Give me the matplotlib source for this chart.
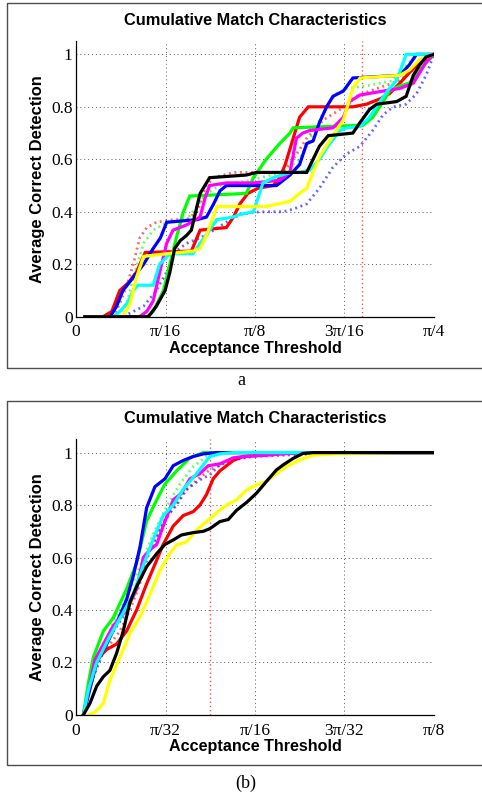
#-*-coding: UTF-8-*-

import numpy as np
import matplotlib
matplotlib.use("Agg")
import matplotlib.pyplot as plt
from matplotlib.patches import Rectangle

# Thresholds are kept in degrees, converted to radians when plotted

# ---- panel a : threshold up to pi/4 ----
a_red_x = [1.1, 3.4, 4.5, 5.5, 6.6, 7.6, 8.7, 14.5, 15.6, 18.9, 19.8, 20.6, 21.6, 22.9,
           24.8, 25.6, 26.3, 27.1, 28.1, 29.2, 34.8, 36.5, 38.2, 39.4, 40.7, 41.9, 43.2, 45]
a_red_y = [0, 0, 0.02, 0.1, 0.13, 0.17, 0.245, 0.25, 0.33, 0.34, 0.38, 0.43, 0.47, 0.49,
           0.50, 0.53, 0.58, 0.66, 0.76, 0.80, 0.80, 0.81, 0.83, 0.85, 0.89, 0.93, 0.97, 1.0]

a_green_x = [1.1, 8.9, 9.7, 11.0, 11.8, 12.6, 13.5, 14.3, 21.4, 22.3, 23.9, 25.6, 26.9,
             27.3, 36.1, 37.3, 38.6, 39.4, 40.7, 41.9, 43.2, 45]
a_green_y = [0, 0, 0.02, 0.1, 0.2, 0.3, 0.4, 0.46, 0.47, 0.53, 0.6, 0.66, 0.70,
             0.72, 0.73, 0.76, 0.82, 0.86, 0.88, 0.89, 0.94, 1.0]

a_blue_x = [1.1, 4.3, 5.1, 5.9, 7.2, 8.5, 9.7, 10.6, 11.4, 15.2, 16.4, 17.3, 18.1, 18.9,
            25.2, 26.9, 28.1, 29.0, 29.8, 30.6, 31.5, 32.3, 33.6, 34.8, 40.7, 41.9, 42.8, 45]
a_blue_y = [0, 0, 0.04, 0.1, 0.15, 0.2, 0.26, 0.3, 0.36, 0.37, 0.38, 0.43, 0.48, 0.5,
            0.5, 0.54, 0.58, 0.66, 0.67, 0.74, 0.8, 0.84, 0.86, 0.91, 0.92, 0.96, 1.0, 1.0]

a_magenta_x = [1.1, 8.0, 8.9, 9.7, 10.6, 11.4, 12.2, 13.9, 15.6, 16.2, 16.8, 18.9, 22.3,
               25.6, 26.9, 27.7, 28.5, 29.4, 32.3, 33.6, 34.4, 35.7, 38.6, 40.7, 42.4,
               43.2, 44.0, 45]
a_magenta_y = [0, 0, 0.02, 0.06, 0.18, 0.28, 0.33, 0.35, 0.38, 0.45, 0.5, 0.51, 0.51,
               0.52, 0.55, 0.68, 0.7, 0.71, 0.72, 0.76, 0.82, 0.845, 0.86, 0.87, 0.89,
               0.93, 0.97, 1.0]

a_cyan_x = [1.1, 4.7, 5.5, 6.4, 7.2, 7.8, 9.7, 10.5, 11.8, 14.7, 15.6, 16.8, 17.7, 19.8,
            20.6, 22.3, 23.5, 24.8, 26.9, 28.1, 29.4, 30.6, 31.9, 33.2, 34.0, 35.7, 36.9,
            38.2, 39.4, 40.3, 41.5, 45]
a_cyan_y = [0, 0, 0.02, 0.05, 0.1, 0.12, 0.12, 0.2, 0.24, 0.24, 0.28, 0.33, 0.37, 0.38,
            0.39, 0.40, 0.51, 0.53, 0.55, 0.55, 0.56, 0.6, 0.66, 0.71, 0.72, 0.725, 0.76,
            0.82, 0.87, 0.9, 1.0, 1.0]

a_yellow_x = [1.1, 5.9, 6.8, 7.6, 8.5, 11.4, 14.7, 15.6, 16.4, 17.7, 23.9, 26.9, 28.1,
              29.0, 30.6, 32.3, 33.6, 34.8, 35.7, 40.7, 41.9, 43.2, 45]
a_yellow_y = [0, 0, 0.05, 0.15, 0.23, 0.24, 0.25, 0.26, 0.31, 0.42, 0.42, 0.44, 0.47,
              0.49, 0.61, 0.69, 0.75, 0.87, 0.91, 0.92, 0.94, 0.98, 1.0]

a_black_x = [1.1, 9.1, 10.1, 11.2, 11.8, 12.4, 13.1, 13.9, 14.5, 15.2, 15.6, 16.8, 21.4,
             22.7, 29.0, 29.8, 30.6, 31.7, 34.8, 35.7, 36.9, 37.8, 40.3, 41.5, 42.4,
             43.2, 44.0, 45]
a_black_y = [0, 0, 0.04, 0.1, 0.17, 0.26, 0.29, 0.31, 0.33, 0.42, 0.47, 0.53, 0.54,
             0.55, 0.55, 0.6, 0.65, 0.69, 0.70, 0.74, 0.79, 0.81, 0.82, 0.84, 0.92,
             0.96, 0.99, 1.0]

a_red_dot_x = [1.1, 4.7, 5.5, 6.4, 7.2, 8.0, 8.9, 10.1, 12.2, 13.9, 15.2, 16.4, 17.3,
               19.8, 26.0, 27.3, 29.0, 31.1, 33.2, 35.2, 36.9, 40.7, 42.8, 45]
a_red_dot_y = [0, 0, 0.05, 0.12, 0.2, 0.3, 0.34, 0.36, 0.37, 0.37, 0.4, 0.5, 0.53,
               0.55, 0.55, 0.6, 0.68, 0.75, 0.79, 0.84, 0.86, 0.9, 0.95, 1.0]

a_green_dot_x = [1.1, 5.1, 6.4, 7.2, 8.5, 9.7, 11.4, 13.9, 15.2, 16.4, 18.1, 21.9, 26.0,
                 28.1, 29.8, 31.5, 32.7, 34.0, 36.5, 39.9, 41.9, 43.2, 45]
a_green_dot_y = [0, 0, 0.05, 0.15, 0.28, 0.33, 0.36, 0.37, 0.42, 0.47, 0.5, 0.52, 0.55,
                 0.6, 0.7, 0.8, 0.85, 0.87, 0.88, 0.9, 0.97, 1.0, 1.0]

a_blue_dot_x = [1.1, 5.9, 7.2, 8.5, 10.1, 11.4, 12.6, 13.9, 15.6, 17.3, 18.9, 20.6, 23.1,
                26.0, 27.3, 29.0, 30.6, 32.3, 34.0, 35.7, 37.3, 38.6, 39.9, 41.5, 42.8,
                44.0, 45]
a_blue_dot_y = [0, 0, 0.02, 0.04, 0.1, 0.17, 0.25, 0.28, 0.30, 0.33, 0.36, 0.39, 0.4,
                0.4, 0.41, 0.43, 0.49, 0.57, 0.62, 0.65, 0.71, 0.77, 0.8, 0.81, 0.85,
                0.92, 1.0]

# ---- panel b : threshold up to pi/8 ----
b_red_x = [0.46, 0.88, 1.30, 1.93, 2.55, 3.18, 3.81, 4.44, 5.07, 5.48, 6.11, 6.74, 7.37,
           7.79, 8.20, 8.62, 9.04, 9.88, 10.51, 11.55, 13.02, 15.11, 22.5]
b_red_y = [0, 0.11, 0.21, 0.25, 0.27, 0.32, 0.40, 0.5, 0.59, 0.65, 0.72, 0.76, 0.775,
           0.8, 0.84, 0.9, 0.93, 0.97, 0.985, 0.99, 0.998, 1.0, 1.0]

b_green_x = [0.46, 0.77, 1.09, 1.72, 2.34, 3.18, 3.81, 4.44, 5.07, 5.59, 6.32, 7.16,
             8.00, 22.5]
b_green_y = [0, 0.12, 0.22, 0.32, 0.37, 0.48, 0.58, 0.74, 0.82, 0.88, 0.93, 0.98,
             1.0, 1.0]

b_blue_x = [0.46, 0.88, 1.30, 1.93, 2.55, 3.18, 3.60, 4.02, 4.44, 4.96, 5.59, 6.11,
            6.74, 7.37, 8.00, 8.83, 22.5]
b_blue_y = [0, 0.1, 0.2, 0.27, 0.35, 0.44, 0.53, 0.64, 0.79, 0.87, 0.9, 0.95, 0.97,
            0.985, 0.995, 1.0, 1.0]

b_magenta_x = [0.46, 0.88, 1.19, 1.72, 2.34, 3.18, 3.81, 4.23, 4.65, 5.07, 5.48, 6.11,
               6.63, 7.16, 7.79, 8.31, 9.04, 9.88, 10.51, 11.97, 14.07, 22.5]
b_magenta_y = [0, 0.12, 0.21, 0.27, 0.34, 0.40, 0.48, 0.6, 0.63, 0.65, 0.72, 0.82,
               0.845, 0.9, 0.92, 0.95, 0.957, 0.98, 0.985, 0.99, 1.0, 1.0]

b_cyan_x = [0.46, 0.77, 1.30, 2.13, 2.97, 3.60, 4.23, 4.86, 5.48, 6.11, 6.74, 7.58,
            8.41, 9.04, 9.88, 22.5]
b_cyan_y = [0, 0.095, 0.2, 0.3, 0.39, 0.46, 0.57, 0.67, 0.76, 0.8, 0.86, 0.92, 0.985,
            0.995, 1.0, 1.0]

b_yellow_x = [0.77, 1.19, 1.72, 2.13, 2.76, 3.39, 4.02, 4.65, 5.27, 5.90, 6.32, 6.95,
              7.58, 8.20, 8.83, 9.46, 10.09, 10.72, 11.34, 11.97, 12.60, 13.23, 14.07,
              14.90, 16.16, 18.25, 20.34, 22.5]
b_yellow_y = [0, 0.01, 0.045, 0.133, 0.22, 0.31, 0.375, 0.46, 0.55, 0.615, 0.648, 0.66,
              0.705, 0.737, 0.77, 0.8, 0.82, 0.858, 0.877, 0.89, 0.92, 0.947, 0.972,
              0.99, 0.995, 0.998, 1.0, 1.0]

b_black_x = [0.46, 0.88, 1.30, 1.72, 2.13, 2.55, 2.97, 3.39, 3.81, 4.44, 5.07, 5.59,
             6.11, 6.63, 7.37, 8.00, 8.41, 9.04, 9.57, 10.09, 10.72, 11.34, 11.97,
             12.60, 13.02, 13.65, 14.27, 14.90, 22.5]
b_black_y = [0, 0.045, 0.11, 0.146, 0.17, 0.235, 0.32, 0.43, 0.49, 0.565, 0.615, 0.65,
             0.667, 0.686, 0.695, 0.70, 0.71, 0.737, 0.745, 0.78, 0.81, 0.845, 0.89,
             0.934, 0.953, 0.978, 0.997, 1.0, 1.0]

b_red_dot_x = [0.46, 0.88, 1.51, 2.13, 2.76, 3.39, 4.02, 4.65, 5.27, 5.90, 6.74, 7.58,
               8.41, 9.25, 10.30, 11.97, 14.07, 16.16, 22.5]
b_red_dot_y = [0, 0.12, 0.22, 0.27, 0.32, 0.40, 0.5, 0.63, 0.705, 0.77, 0.845, 0.895,
               0.934, 0.96, 0.98, 0.99, 0.998, 1.0, 1.0]

b_green_dot_x = [0.46, 0.88, 1.51, 2.34, 3.18, 4.02, 4.86, 5.69, 6.53, 7.37, 8.20,
                 9.46, 22.5]
b_green_dot_y = [0, 0.13, 0.235, 0.35, 0.45, 0.565, 0.69, 0.794, 0.88, 0.947, 0.985,
                 1.0, 1.0]

b_blue_dot_x = [0.46, 0.88, 1.51, 2.13, 2.97, 3.81, 4.44, 5.07, 5.69, 6.32, 6.95, 7.79,
                8.41, 9.04, 9.88, 11.13, 13.02, 16.16, 18.25, 22.5]
b_blue_dot_y = [0, 0.11, 0.21, 0.3, 0.375, 0.49, 0.6, 0.68, 0.756, 0.8, 0.86, 0.896,
                0.915, 0.953, 0.972, 0.985, 0.99, 0.998, 1.0, 1.0]

# marker lines (degrees)
a_marker = 36.0
b_marker = 8.42

a_ticks = [0, 11.25, 22.5, 33.75, 45]
a_ticklabels = ["0", "π/16", "π/8", "3π/16", "π/4"]
b_ticks = [0, 5.625, 11.25, 16.875, 22.5]
b_ticklabels = ["0", "π/32", "π/16", "3π/32", "π/8"]
y_ticks = [0, 0.2, 0.4, 0.6, 0.8, 1]
y_ticklabels = ["0", "0.2", "0.4", "0.6", "0.8", "1"]

SERIF = ["Liberation Serif", "DejaVu Serif"]
SANS = ["Liberation Sans", "DejaVu Sans"]
DOTTED = (0, (0.7, 1.3))


def draw_panel(ax, solid, dotted, marker, ticks, ticklabels):
    """
    Draws one cumulative match characteristics panel
    """
    rad = np.deg2rad
    for x, y, c in dotted:
        ax.plot(rad(x), y, color=c, lw=2.0, ls=DOTTED, alpha=0.6,
                dash_capstyle="butt")
    ax.axvline(rad(marker), color=(1, 0.3, 0.3), lw=1.0, ls=(0, (1, 2)))
    for x, y, c in solid:
        ax.plot(rad(x), y, color=c, lw=2.3, solid_joinstyle="miter")

    ax.set_xlim(0, rad(ticks[-1]))
    ax.set_ylim(0, 1.05)
    ax.set_xticks(rad(np.array(ticks)))
    ax.set_xticklabels(ticklabels, family=SERIF, fontsize=12.5)
    ax.set_yticks(y_ticks)
    ax.set_yticklabels(y_ticklabels, family=SERIF, fontsize=12.5)
    ax.tick_params(length=0)
    ax.tick_params(axis="x", pad=5.5)
    ax.tick_params(axis="y", pad=2.5)
    ax.grid(True, color="0.35", lw=0.7, ls=(0, (1, 3)))
    for side in ["top", "right"]:
        ax.spines[side].set_visible(False)
    for side in ["left", "bottom"]:
        ax.spines[side].set_linewidth(0.9)
    ax.set_axisbelow(True)

    ax.text(0.5, -0.132, "Acceptance Threshold", transform=ax.transAxes,
            ha="center", va="baseline", family=SANS, fontweight="bold",
            fontsize=11.6)
    ax.text(-0.107, 0.5, "Average Correct Detection", transform=ax.transAxes,
            ha="center", va="center", rotation=90, family=SANS,
            fontweight="bold", fontsize=11.9)
    ax.text(0.5, 1.0 + 0.076, "Cumulative Match Characteristics",
            transform=ax.transAxes, ha="center", va="center", family=SANS,
            fontweight="bold", fontsize=11.8)


def main():
    fig = plt.figure(figsize=(4.82, 7.96), dpi=100)

    # frames around each panel
    for bottom, height in [(0.5377, 0.4585), (0.0389, 0.4573)]:
        fig.patches.append(Rectangle((0.0145, bottom), 1.2, height,
                                     transform=fig.transFigure, fill=False,
                                     edgecolor="0.3", lw=1.0))

    ax_a = fig.add_axes([0.1577, 0.6021, 0.7427, 0.3461])
    ax_b = fig.add_axes([0.1577, 0.1018, 0.7427, 0.3461])

    a_dotted = [(a_red_dot_x, a_red_dot_y, (1, 0, 0)),
                (a_green_dot_x, a_green_dot_y, (0, 1, 0)),
                (a_blue_dot_x, a_blue_dot_y, (0, 0, 1))]
    a_solid = [(a_red_x, a_red_y, (1, 0, 0)),
               (a_green_x, a_green_y, (0, 1, 0)),
               (a_blue_x, a_blue_y, (0, 0, 1)),
               (a_magenta_x, a_magenta_y, (1, 0, 1)),
               (a_cyan_x, a_cyan_y, (0, 1, 1)),
               (a_yellow_x, a_yellow_y, (1, 1, 0)),
               (a_black_x, a_black_y, (0, 0, 0))]
    draw_panel(ax_a, a_solid, a_dotted, a_marker, a_ticks, a_ticklabels)

    b_dotted = [(b_red_dot_x, b_red_dot_y, (1, 0, 0)),
                (b_green_dot_x, b_green_dot_y, (0, 1, 0)),
                (b_blue_dot_x, b_blue_dot_y, (0, 0, 1))]
    b_solid = [(b_red_x, b_red_y, (1, 0, 0)),
               (b_green_x, b_green_y, (0, 1, 0)),
               (b_blue_x, b_blue_y, (0, 0, 1)),
               (b_magenta_x, b_magenta_y, (1, 0, 1)),
               (b_cyan_x, b_cyan_y, (0, 1, 1)),
               (b_yellow_x, b_yellow_y, (1, 1, 0)),
               (b_black_x, b_black_y, (0, 0, 0))]
    draw_panel(ax_b, b_solid, b_dotted, b_marker, b_ticks, b_ticklabels)

    fig.text(0.5, 1 - 381 / 796, "a", ha="center", va="center",
             family=SERIF, fontsize=13)
    fig.text(0.51, 1 - 783 / 796, "(b)", ha="center", va="center",
             family=SERIF, fontsize=13)

    fig.savefig("out.png", dpi=100)


if __name__ == "__main__":
    main()
